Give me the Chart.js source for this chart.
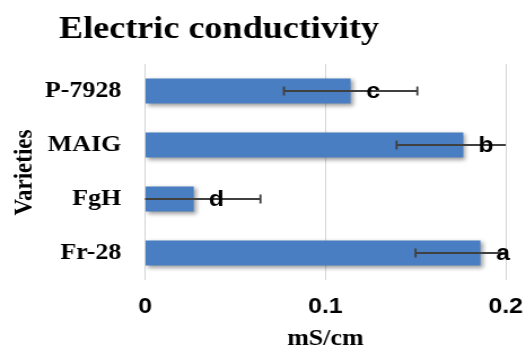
<!DOCTYPE html>
<html>
<head>
<meta charset="utf-8">
<script src="https://cdn.jsdelivr.net/npm/chart.js@4"></script>
<style>
  html, body { margin: 0; padding: 0; background: #fff; overflow: hidden; }
  #wrap { width: 466px; height: 347px; transform: scaleX(1.12876); transform-origin: 0 0; }
</style>
</head>
<body>
<div id="wrap"><canvas id="c" width="466" height="347" style="width:466px;height:347px"></canvas></div>
<script>
// ---- data ----
const categories = ['P-7928', 'MAIG', 'FgH', 'Fr-28'];
const meanValues = [0.114, 0.1765, 0.027, 0.186];
const errorValues = [0.037, 0.037, 0.037, 0.036];
const groupLetters = ['c', 'b', 'd', 'a'];
const xTickLabels = ['0', '0.1', '0.2'];
const chartTitle = 'Electric conductivity';
const xTitle = 'mS/cm';
const yTitle = 'Varieties';

const SERIF = '"Liberation Serif", "Times New Roman", serif';
const SANS = '"Liberation Sans", Arial, sans-serif';

const extrasPlugin = {
  id: 'extras',
  beforeDatasetDraw(chart) {
    const ctx = chart.ctx;
    ctx.save();
    ctx.shadowColor = 'rgba(0,0,0,0.38)';
    ctx.shadowBlur = 4;
    ctx.shadowOffsetX = 2;
    ctx.shadowOffsetY = 2;
  },
  afterDatasetDraw(chart) {
    chart.ctx.restore();
  },
  afterDatasetsDraw(chart) {
    const ctx = chart.ctx;
    const xs = chart.scales.x;
    const area = chart.chartArea;
    const meta = chart.getDatasetMeta(0);
    ctx.save();
    ctx.strokeStyle = '#404040';
    ctx.lineWidth = 1.8;
    meta.data.forEach((bar, i) => {
      const y = bar.y;
      const lo = xs.getPixelForValue(meanValues[i] - errorValues[i]);
      const hi = xs.getPixelForValue(meanValues[i] + errorValues[i]);
      const a = Math.max(lo, area.left);
      const b = Math.min(hi, area.right);
      ctx.beginPath();
      ctx.moveTo(a, y); ctx.lineTo(b, y);
      if (lo >= area.left) { ctx.moveTo(lo, y - 4.5); ctx.lineTo(lo, y + 4.5); }
      if (hi <= area.right) { ctx.moveTo(hi, y - 4.5); ctx.lineTo(hi, y + 4.5); }
      ctx.stroke();
    });
    ctx.fillStyle = '#000';
    ctx.font = 'bold 22px ' + SANS;
    ctx.textAlign = 'center';
    ctx.textBaseline = 'middle';
    meta.data.forEach((bar, i) => {
      ctx.fillText(groupLetters[i], bar.x + 20, bar.y + 1);
    });
    ctx.restore();
  },
  afterDraw(chart) {
    const ctx = chart.ctx;
    ctx.save();
    ctx.fillStyle = '#000';
    // chart title
    ctx.font = 'bold 32px ' + SERIF;
    ctx.textAlign = 'left';
    ctx.textBaseline = 'alphabetic';
    ctx.fillText(chartTitle, 52.3, 38);
    // x title
    ctx.font = 'bold 23px ' + SERIF;
    ctx.textAlign = 'center';
    const area = chart.chartArea;
    ctx.fillText(xTitle, (area.left + area.right) / 2, 345);
    // y title
    ctx.translate(28, (area.top + area.bottom) / 2 + 0.5);
    ctx.rotate(-Math.PI / 2);
    ctx.fillText(yTitle, 0, 0);
    ctx.restore();
  }
};

new Chart(document.getElementById('c'), {
  type: 'bar',
  data: {
    labels: categories,
    datasets: [{
      data: meanValues,
      backgroundColor: '#4a7ec2',
      borderWidth: 0,
      categoryPercentage: 1.0,
      barPercentage: 0.463
    }]
  },
  options: {
    indexAxis: 'y',
    responsive: false,
    animation: false,
    devicePixelRatio: 1,
    layout: { padding: { top: 64, right: 18, left: 0, bottom: 0 } },
    plugins: {
      legend: { display: false },
      title: { display: false },
      tooltip: { enabled: false }
    },
    scales: {
      x: {
        min: 0, max: 0.2,
        ticks: {
          stepSize: 0.1,
          padding: 14,
          color: '#000',
          font: { family: SANS, size: 22, weight: 'bold' },
          callback: (v, i) => xTickLabels[i]
        },
        grid: { color: '#d4d4d4', lineWidth: 1, drawTicks: false },
        border: { display: false },
        afterFit(scale) { scale.height = 67; scale.paddingLeft = 0; scale.paddingRight = 0; }
      },
      y: {
        ticks: {
          padding: 21,
          color: '#000',
          font: { family: SERIF, size: 23, weight: 'bold' }
        },
        grid: { display: false, drawTicks: false },
        border: { display: false },
        afterFit(scale) { scale.width = 128.5; scale.paddingTop = 0; scale.paddingBottom = 0; }
      }
    }
  },
  plugins: [extrasPlugin]
});
</script>
</body>
</html>
